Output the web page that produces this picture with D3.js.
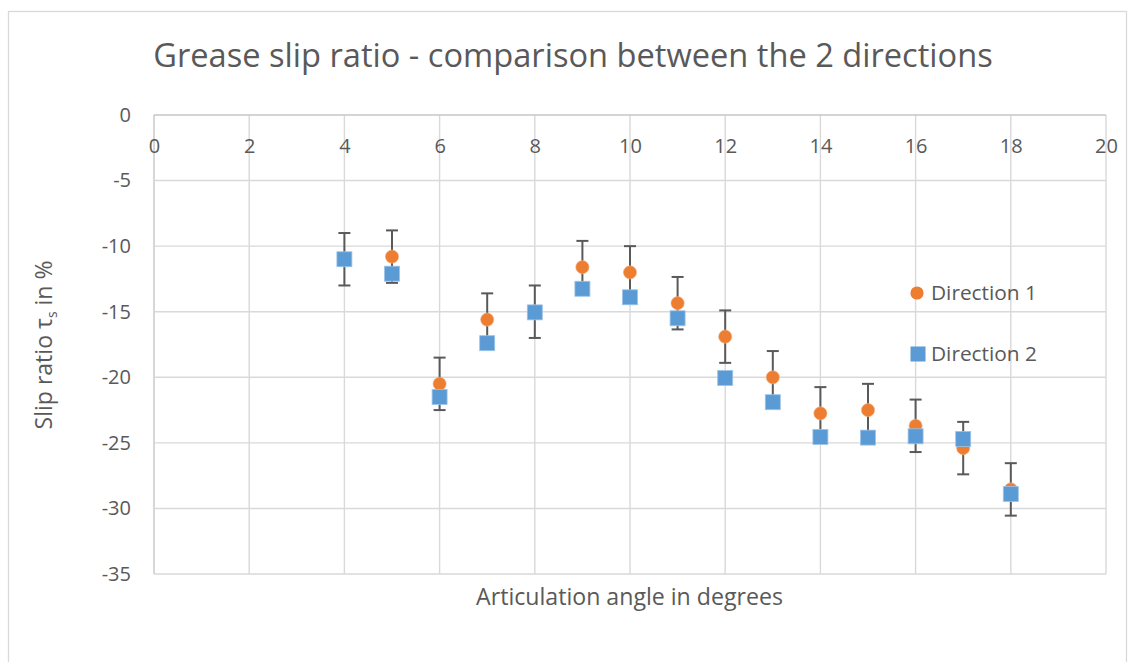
<!DOCTYPE html>
<html><head><meta charset="utf-8">
<script src="https://cdnjs.cloudflare.com/ajax/libs/d3/7.8.5/d3.min.js"></script>
<style>body{margin:0;background:#fff;} text{font-family:"Open Sans",sans-serif;}</style>
</head><body>
<svg id="c" width="1135" height="662"></svg>
<script>
// ---- data ----
const angles = [4,5,6,7,8,9,10,11,12,13,14,15,16,17,18];
const direction1 = [-11.0,-10.8,-20.5,-15.6,-15.0,-11.6,-12.0,-14.35,-16.9,-20.0,-22.75,-22.5,-23.7,-25.4,-28.55];
const direction2 = [-11.0,-12.1,-21.5,-17.4,-15.05,-13.25,-13.9,-15.5,-20.05,-21.9,-24.55,-24.6,-24.5,-24.7,-28.9];
const direction1Err = [2,2,2,2,2,2,2,2,2,2,2,2,2,2,2];
const xTicks = [0,2,4,6,8,10,12,14,16,18,20];
const yTicks = [0,-5,-10,-15,-20,-25,-30,-35];
const seriesNames = ["Direction 1","Direction 2"];
const titleText = "Grease slip ratio - comparison between the 2 directions";
const xTitle = "Articulation angle in degrees";

const svg = d3.select("#c");
const grid = "#d9d9d9", axisCol = "#c6c6c6", txt = "#595959";
const orange = "#ed7d31", blue = "#5b9bd5";

// chart border
svg.append("rect").attr("x",8.5).attr("y",11.5).attr("width",1118).attr("height",670)
  .attr("fill","none").attr("stroke",grid).attr("stroke-width",1.3);

const x = d3.scaleLinear().domain([0,20]).range([154,1106]);
const y = d3.scaleLinear().domain([-35,0]).range([574,115]);

function fit(sel, w){
  sel.style("font-size","100px");
  const l = sel.node().getComputedTextLength();
  sel.style("font-size",(100*w/l)+"px");
  return sel;
}

// gridlines
svg.append("g").selectAll("line").data(xTicks).join("line")
  .attr("x1",d=>x(d)).attr("x2",d=>x(d)).attr("y1",y(0)).attr("y2",y(-35))
  .attr("stroke",d=>d===0?axisCol:grid).attr("stroke-width",1.4);
svg.append("g").selectAll("line").data(yTicks).join("line")
  .attr("x1",x(0)).attr("x2",x(20)).attr("y1",d=>y(d)).attr("y2",d=>y(d))
  .attr("stroke",d=>d===0?axisCol:grid).attr("stroke-width",1.4);

const fmt = d => String(d);
// axes labels via d3 axes
const xa = svg.append("g").attr("transform",`translate(0,${y(0)})`)
  .call(d3.axisBottom(x).tickValues(xTicks).tickFormat(fmt).tickSize(0).tickPadding(24));
xa.select(".domain").remove();
xa.attr("font-size",null).attr("font-family",null);
xa.selectAll("text").attr("fill",txt).style("font-size","20px");
const ya = svg.append("g").attr("transform",`translate(${x(0)},0)`)
  .call(d3.axisLeft(y).tickValues(yTicks).tickFormat(fmt).tickSize(0).tickPadding(23));
ya.select(".domain").remove();
ya.attr("font-size",null).attr("font-family",null);
ya.selectAll("text").attr("fill",txt).style("font-size","20px");

// title
fit(svg.append("text").attr("x",573).attr("y",67).attr("text-anchor","middle").attr("fill",txt).text(titleText),840);
// x title
fit(svg.append("text").attr("x",629.5).attr("y",605).attr("text-anchor","middle").attr("fill",txt).text(xTitle),307);
// y title
const yt = svg.append("text").attr("transform","translate(52,345) rotate(-90)").attr("text-anchor","middle").attr("fill",txt);
yt.append("tspan").text("Slip ratio τ");
yt.append("tspan").attr("dy",5).style("font-size","0.6em").text("s");
yt.append("tspan").attr("dy",-5).text(" in %");
fit(yt,169);

// error bars
const eb = svg.append("g").attr("stroke","#595959").attr("stroke-width",2);
angles.forEach((a,i)=>{
  const v = direction1[i], e = direction1Err[i];
  eb.append("line").attr("x1",x(a)).attr("x2",x(a)).attr("y1",y(v+e)).attr("y2",y(v-e));
  eb.append("line").attr("x1",x(a)-6).attr("x2",x(a)+6).attr("y1",y(v+e)).attr("y2",y(v+e));
  eb.append("line").attr("x1",x(a)-6).attr("x2",x(a)+6).attr("y1",y(v-e)).attr("y2",y(v-e));
});

// series 1 circles
svg.append("g").selectAll("circle").data(angles).join("circle")
  .attr("cx",d=>x(d)).attr("cy",(d,i)=>y(direction1[i])).attr("r",6.6).attr("fill",orange)
  .attr("stroke","#f4b183").attr("stroke-width",0.6);
// series 2 squares
const s = 15;
svg.append("g").selectAll("rect").data(angles).join("rect")
  .attr("x",d=>x(d)-s/2).attr("y",(d,i)=>y(direction2[i])-s/2).attr("width",s).attr("height",s)
  .attr("fill",blue).attr("stroke","#9dc3e6").attr("stroke-width",0.8);

// legend
const lg = svg.append("g");
lg.append("circle").attr("cx",917).attr("cy",293).attr("r",6.6).attr("fill",orange);
lg.append("rect").attr("x",918-7.5).attr("y",354-7.5).attr("width",15).attr("height",15).attr("fill",blue);
fit(lg.append("text").attr("x",931).attr("y",300).attr("fill",txt).text(seriesNames[0]),106);
fit(lg.append("text").attr("x",931).attr("y",361).attr("fill",txt).text(seriesNames[1]),106);
</script>
</body></html>
